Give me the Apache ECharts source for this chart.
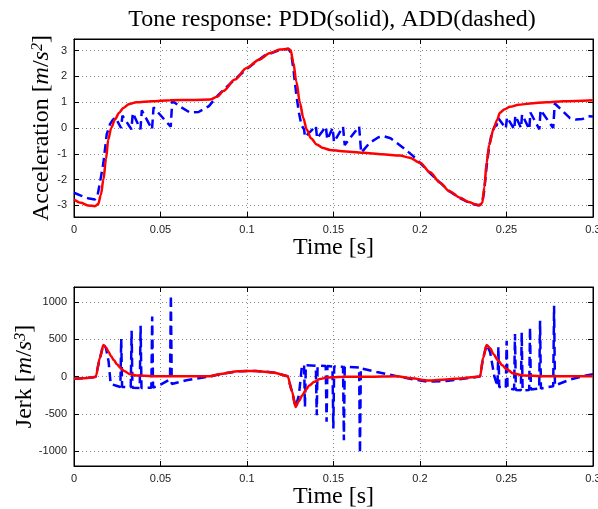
<!DOCTYPE html>
<html>
<head>
<meta charset="utf-8">
<script src="https://cdn.jsdelivr.net/npm/echarts@6/dist/echarts.min.js"></script>
<style>
html,body{margin:0;padding:0;background:#fff;}
#chart{width:598px;height:509px;}
</style>
</head>
<body>
<div id="chart"></div>
<script>
// 加速度 - PDD (实线)
var accPddT = [0, .004, .008, .0121, .0140, .0155, .0170, .0185, .0198, .0215, .0237, .0260, .0285, .0320, .0360, .0450, .0555, .0700, .0786, .0830, .0863, .0930, .0998, .1070, .1133, .1190, .1239, .1252, .1268, .1285, .1306, .1325, .1345, .1370, .1403, .1440, .1480, .1550, .1672, .1780, .1884, .1940, .2000, .2058, .2116, .2170, .2231, .2280, .2328, .2345, .2360, .2372, .2385, .2400, .2424, .2445, .2462, .2490, .2520, .2570, .2636, .2730, .2828, .3000];
var accPddV = [-2.77, -2.90, -3.00, -3.03, -2.95, -2.6, -2.0, -1.2, -0.45, 0.0, 0.33, 0.58, 0.78, 0.93, 1.0, 1.04, 1.08, 1.09, 1.10, 1.22, 1.43, 1.88, 2.33, 2.65, 2.91, 3.04, 3.07, 3.02, 2.53, 1.8, 0.98, 0.4, -0.06, -0.40, -0.64, -0.78, -0.85, -0.90, -0.96, -1.02, -1.07, -1.15, -1.35, -1.72, -2.12, -2.45, -2.70, -2.87, -2.97, -3.0, -2.9, -2.3, -1.35, -0.65, -0.06, 0.30, 0.59, 0.73, 0.82, 0.90, 0.95, 1.0, 1.04, 1.08];

// 加速度 - ADD (虚线)
var accAddT = [0, .004, .008, .0121, .0135, .0150, .0170, .0189, .0208, .0225, .0240, .0272, .0280, .0332, .0340, .0384, .0392, .0451, .0460, .0559, .0568, .0620, .0670, .0720, .0780, .0830, .0900, .1000, .1100, .1180, .1239,
  .1255, .1268, .1285, .1300, .1315, .1330, .1335, .1398, .1405, .1456, .1464, .1495, .1503, .1555, .1565, .1648, .1660, .1710, .1760, .1790, .1830, .1865, .1910, .1961, .2000, .2058, .2116, .2170, .2231, .2290, .2335, .2357, .2370, .2385, .2400, .2415, .2430, .2443,
  .2453, .2496, .2503, .2545, .2551, .2584, .2590, .2632, .2638, .2690, .2697, .2770, .2779, .2830, .2867, .2900, .2940, .2973, .3000];
var accAddV = [-2.51, -2.62, -2.72, -2.77, -2.65, -2.12, -1.35, -0.25, 0.15, 0.32, 0.40, 0.0, 0.48, -0.05, 0.58, -0.05, 0.68, -0.05, 0.80, 0.05, 1.05, 0.80, 0.60, 0.62, 0.85, 1.25, 1.70, 2.30, 2.80, 3.00, 3.07,
  2.9, 2.3, 1.3, 0.6, 0.1, -0.05, -0.35, 0.08, -0.40, 0.05, -0.45, 0.0, -0.55, 0.05, -0.66, 0.06, -0.96, -0.57, -0.36, -0.32, -0.40, -0.57, -0.80, -1.09, -1.35, -1.75, -2.12, -2.45, -2.72, -2.92, -3.0, -2.95, -2.5, -1.5, -0.7, -0.2, 0.05, 0.10,
  0.38, -0.02, 0.42, -0.05, 0.48, 0.0, 0.52, -0.05, 0.60, -0.05, 0.70, 0.0, 0.95, 0.62, 0.38, 0.33, 0.35, 0.46, 0.45];

// 加加速度 - PDD
var jerkPddT = [0, .005, .010, .0125, .0150, .0170, .0185, .0200, .0215, .0230, .0250, .0270, .0290, .0320, .0360, .0450, .0600, .0786, .0850, .0950, .1050, .1150, .1235, .1260, .1281, .1300, .1320, .1340, .1360, .1390, .1420, .1460, .1550, .1700, .1865, .1950, .2050, .2150, .2250, .2347, .2365, .2385, .2405, .2425, .2450, .2475, .2500, .2540, .2600, .2700, .2850, .3000];
var jerkPddV = [-30, -25, -15, -5, 250, 423, 390, 330, 270, 220, 160, 110, 75, 35, 12, 5, 3, 5, 35, 70, 75, 55, 5, -200, -408, -330, -250, -180, -120, -70, -35, -15, -5, -2, 5, -25, -55, -40, -22, 0, 250, 423, 380, 300, 220, 150, 100, 40, 15, 5, 3, 3];

// 加加速度 - ADD
var jerkAddT = [0, .010, .0125, .0150, .0170, .0185, .0200, .0212, .0240, .0268, .0273, .0278, .0328, .0333, .0338, .0380, .0385, .0390, .0447, .0452, .0457, .0500, .0555, .0560, .0565, .0650, .0786, .0850, .0950, .1050, .1150, .1235,
  .1260, .1281, .1300, .1318, .1330, .1335, .1340, .1398, .1403, .1408, .1455, .1460, .1465, .1494, .1499, .1504, .1555, .1560, .1565, .1648, .1653, .1658, .1750, .1865, .1950, .2050, .2150, .2250, .2347,
  .2365, .2385, .2405, .2430, .2448, .2453, .2458, .2496, .2501, .2506, .2544, .2549, .2554, .2583, .2588, .2593, .2631, .2636, .2641, .2689, .2694, .2699, .2770, .2775, .2780, .2870, .2950, .3000];
var jerkAddV = [-30, -15, -5, 250, 430, 380, 200, -100, -120, -140, 503, -140, -145, 613, -150, -155, 680, -155, -150, 805, -150, -110, -40, 1089, -100, -50, 0, 35, 70, 75, 55, 5,
  -200, -408, -250, 150, 150, -410, 150, 145, -520, 145, 140, -608, 140, 135, -697, 135, 130, -853, 130, 120, -1030, 110, 60, 5, -35, -70, -60, -30, 0,
  250, 423, 330, 0, -130, 396, -140, -150, 480, -155, -175, 569, -180, -185, 591, -185, -180, 659, -175, -160, 747, -160, -130, 947, -120, -40, 10, 30];

var xTicks = [0, 0.05, 0.1, 0.15, 0.2, 0.25, 0.3];

function zip(t, v) {
	var out = [];
	for (var i = 0; i < t.length; i++) out.push([t[i], v[i]]);
	return out;
}

var serif = '"Liberation Serif", "DejaVu Serif", serif';
var sans = '"Liberation Sans", Arial, sans-serif';
var dotted = {show: true, lineStyle: {color: '#8a8a8a', width: 1, type: [1, 3]}};
var blackLine = {show: true, onZero: false, lineStyle: {color: '#000', width: 1}};
var tickIn = {show: true, inside: true, length: 5, lineStyle: {color: '#000'}};

function xAxisMain(gridIndex) {
	return {
		type: 'value', gridIndex: gridIndex, position: 'bottom',
		min: xTicks[0], max: xTicks[xTicks.length - 1], interval: 0.05,
		name: 'Time [s]', nameLocation: 'middle', nameGap: 15,
		nameTextStyle: {fontFamily: serif, fontSize: 24, color: '#000'},
		axisLine: blackLine, axisTick: tickIn, splitLine: dotted,
		axisLabel: {
			color: '#222', fontFamily: sans, fontSize: 11, margin: 7,
			formatter: function (v) { return String(+v.toFixed(2)); }
		}
	};
}
function xAxisTop(gridIndex) {
	return {
		type: 'value', gridIndex: gridIndex, position: 'top',
		min: 0, max: 0.3, interval: 0.05,
		axisLine: blackLine, axisTick: tickIn, splitLine: {show: false}, axisLabel: {show: false}
	};
}
function yAxisPair(gridIndex, min, max, split, name, gap) {
	return [{
		type: 'value', gridIndex: gridIndex, position: 'left',
		min: min, max: max, splitNumber: split,
		name: name, nameLocation: 'middle', nameGap: gap, nameRotate: 90, nameMoveOverlap: false,
		nameTextStyle: {
			fontFamily: serif, fontSize: 24, color: '#000',
			rich: {
				it: {fontFamily: serif, fontSize: 24, fontStyle: 'italic', color: '#000'},
				sup: {fontFamily: serif, fontSize: 16, fontStyle: 'italic', verticalAlign: 'top', color: '#000'}
			}
		},
		axisLine: blackLine, axisTick: tickIn, splitLine: dotted,
		axisLabel: {
			color: '#222', fontFamily: sans, fontSize: 11, margin: 7, showMinLabel: false, showMaxLabel: false,
			formatter: function (v) { return String(v); }
		}
	}, {
		type: 'value', gridIndex: gridIndex, position: 'right',
		min: min, max: max, splitNumber: split,
		axisLine: blackLine, axisTick: tickIn, splitLine: {show: false}, axisLabel: {show: false}
	}];
}

var yTop = yAxisPair(0, -3.45, 3.45, 7, 'Acceleration [{it|m}/{it|s}{sup|2}]', 20);
var yBot = yAxisPair(1, -1200, 1200, 5, 'Jerk [{it|m}/{it|s}{sup|3}]', 37);

var chart = echarts.init(document.getElementById('chart'), null, {renderer: 'canvas'});
var option = {
	animation: false,
	backgroundColor: '#fff',
	title: {
		text: 'Tone response: PDD(solid), ADD(dashed)',
		left: 327, top: 3, textAlign: 'center',
		textStyle: {fontFamily: serif, fontSize: 24, fontWeight: 'normal', color: '#000'}
	},
	grid: [
		{left: 74, right: 5, top: 39, height: 178, show: true, borderColor: '#000', borderWidth: 1, backgroundColor: '#fff', outerBoundsMode: 'none', containLabel: false},
		{left: 74, right: 5, top: 287, height: 179, show: true, borderColor: '#000', borderWidth: 1, backgroundColor: '#fff', outerBoundsMode: 'none', containLabel: false}
	],
	xAxis: [xAxisMain(0), xAxisTop(0), xAxisMain(1), xAxisTop(1)],
	yAxis: [yTop[0], yTop[1], yBot[0], yBot[1]],
	series: [{
		name: 'ADD', type: 'line', xAxisIndex: 0, yAxisIndex: 0,
		data: zip(accAddT, accAddV), showSymbol: false,
		lineStyle: {color: '#0000ff', width: 2.5, type: [9, 5]}
	}, {
		name: 'PDD', type: 'line', xAxisIndex: 0, yAxisIndex: 0,
		data: zip(accPddT, accPddV), showSymbol: false, smooth: 0.3, smoothMonotone: 'x',
		lineStyle: {color: '#ff0000', width: 2.5}
	}, {
		name: 'ADD jerk', type: 'line', xAxisIndex: 2, yAxisIndex: 2,
		data: zip(jerkAddT, jerkAddV), showSymbol: false,
		lineStyle: {color: '#0000ff', width: 2.5, type: [9, 5]}
	}, {
		name: 'PDD jerk', type: 'line', xAxisIndex: 2, yAxisIndex: 2,
		data: zip(jerkPddT, jerkPddV), showSymbol: false, smooth: 0.3, smoothMonotone: 'x',
		lineStyle: {color: '#ff0000', width: 2.5}
	}]
};
chart.setOption(option);
</script>
</body>
</html>
